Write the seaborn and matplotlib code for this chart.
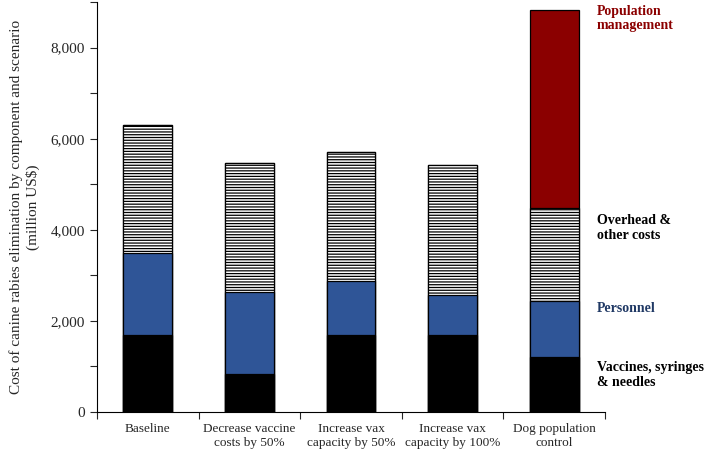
import numpy as np
import pandas as pd
import matplotlib
matplotlib.use("Agg")
import matplotlib.pyplot as plt
import seaborn as sns
from matplotlib.ticker import MultipleLocator, FuncFormatter

scenarios = ["Baseline", "Decrease vaccine\ncosts by 50%", "Increase vax\ncapacity by 50%",
             "Increase vax\ncapacity by 100%", "Dog population\ncontrol"]
vaccines = [1680, 835, 1680, 1680, 1210]
personnel = [1800, 1790, 1190, 880, 1220]
overhead = [2830, 2835, 2830, 2860, 2050]
population = [0, 0, 0, 0, 4350]

components = ["Vaccines, syringes\n& needles", "Personnel", "Overhead &\nother costs", "Population\nmanagement"]
layer_values = [vaccines, personnel, overhead, population]
fill_colors = ["#000000", "#2F5597", "#FFFFFF", "#8B0000"]
hatches = [None, None, "------", None]
label_colors = ["#000000", "#1F3864", "#000000", "#8B0000"]

sns.set_style("white")
plt.rcParams["font.family"] = ["Liberation Serif", "DejaVu Serif"]
plt.rcParams["hatch.linewidth"] = 0.9

fig = plt.figure(figsize=(7.08, 4.53), dpi=100)
ax = fig.add_axes([0.137, 0.0905, 0.7175, 0.905])

cum = np.cumsum(np.array(layer_values, dtype=float), axis=0)
# draw from top layer down so lower layers overlay
for i in range(len(components) - 1, -1, -1):
    df = pd.DataFrame({"scenario": scenarios, "value": cum[i]})
    sns.barplot(data=df, x="scenario", y="value", color=fill_colors[i], ax=ax,
                width=0.48, edgecolor="black", linewidth=0.9, hatch=hatches[i],
                saturation=1, errorbar=None)
    for p in ax.patches[-len(scenarios):]:
        p.set_facecolor(fill_colors[i])
        if hatches[i]:
            p.set_hatch(hatches[i])

# labels beside last bar
label_y = [810, 2280, 4035, 8640]
for name, yv, col in zip(components, label_y, label_colors):
    ax.text(4.42, yv, name, color=col, fontsize=10, fontweight="bold",
            va="center", ha="left", clip_on=False, linespacing=1.15)

ax.set_xlim(-0.5, 4.5)
ax.set_ylim(0, 9000)
ax.yaxis.set_major_locator(MultipleLocator(2000))
ax.yaxis.set_minor_locator(MultipleLocator(1000))
ax.yaxis.set_major_formatter(FuncFormatter(lambda v, p: f"{int(v):,}"))
ax.set_xticks(np.arange(-0.5, 5.0, 1.0))
ax.set_xticklabels([])
ax.set_xticks(np.arange(0, 5), minor=True)
ax.set_xticklabels(scenarios, minor=True, fontsize=9.5)
ax.tick_params(axis="x", which="minor", length=0, pad=8)
ax.tick_params(axis="x", which="major", length=5, direction="out", width=0.8)
ax.tick_params(axis="y", which="both", length=5, direction="out", width=0.8, labelsize=11)
ax.tick_params(axis="both", which="both", bottom=True, left=True)
ax.set_xlabel("")
ax.set_ylabel("Cost of canine rabies elimination by component and scenario\n(million US$)",
              fontsize=11, labelpad=8)
for s in ["top", "right"]:
    ax.spines[s].set_visible(False)
for s in ["left", "bottom"]:
    ax.spines[s].set_color("black")
    ax.spines[s].set_linewidth(0.8)

fig.savefig("out.png", dpi=100)
